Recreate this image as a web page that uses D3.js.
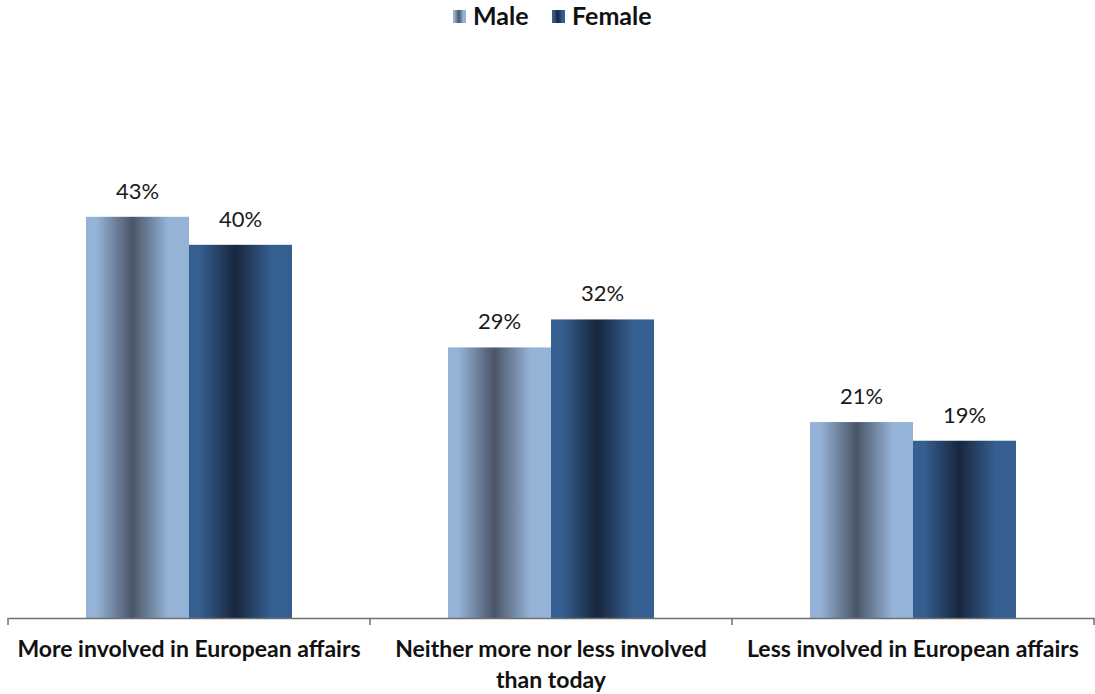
<!DOCTYPE html>
<html><head><meta charset="utf-8">
<script src="https://cdn.jsdelivr.net/npm/d3@7"></script>
<style>body{margin:0;background:#fff}</style>
</head><body>
<svg id="chart" width="1095" height="694"></svg>
<script>
const categories = [["More involved in European affairs"], ["Neither more nor less involved", "than today"], ["Less involved in European affairs"]];
const seriesNames = ["Male", "Female"];
const maleValues = [43, 29, 21];
const femaleValues = [40, 32, 19];

const svg = d3.select("#chart");
const font = "Lato, 'Open Sans', sans-serif";
const baseY = 618;

const x0 = d3.scaleBand().domain(d3.range(categories.length)).range([8, 1094]).paddingInner(0).paddingOuter(0);
const x1 = d3.scaleBand().domain(seriesNames).range([0, x0.bandwidth()]).paddingInner(0).paddingOuter(0.757);
const y = d3.scaleLinear().domain([0, 50]).range([baseY, 151.5]);

const defs = svg.append("defs");
function grad(id, edge, mid) {
  const g = defs.append("linearGradient").attr("id", id).attr("x1", "0%").attr("x2", "100%").attr("y1", "0%").attr("y2", "0%");
  [[0, edge], [0.1, edge], [0.45, mid], [0.8, edge], [1, edge]].forEach(([o, c]) => g.append("stop").attr("offset", o).attr("stop-color", c));
}
grad("gMale", "#95b3d7", "#4a5567");
grad("gFemale", "#365f91", "#17263d");
const fills = {Male: "url(#gMale)", Female: "url(#gFemale)"};

const data = categories.map((c, i) => ({i, vals: [{s: "Male", v: maleValues[i]}, {s: "Female", v: femaleValues[i]}]}));

const groups = svg.selectAll("g.grp").data(data).enter().append("g").attr("class", "grp")
  .attr("transform", d => `translate(${x0(d.i)},0)`);
groups.selectAll("rect").data(d => d.vals).enter().append("rect")
  .attr("x", d => x1(d.s)).attr("width", x1.bandwidth())
  .attr("y", d => y(d.v)).attr("height", d => y(0) - y(d.v))
  .attr("fill", d => fills[d.s]);
groups.selectAll("text.val").data(d => d.vals).enter().append("text").attr("class", "val")
  .attr("x", d => x1(d.s) + x1.bandwidth() / 2).attr("y", d => y(d.v) - 18)
  .attr("text-anchor", "middle").attr("font-family", font).attr("font-size", 22).attr("fill", "#1a1a1a")
  .text(d => d.v + "%");

// axis
const axis = svg.append("g").attr("transform", `translate(0,${baseY})`)
  .call(d3.axisBottom(x0).tickValues([]).tickSizeOuter(0));
axis.select(".domain").attr("stroke", "#6f6f6f").attr("stroke-width", 1.5);
const boundaries = d3.range(categories.length + 1).map(i => i < categories.length ? x0(i) : x0(i - 1) + x0.bandwidth());
svg.selectAll("line.tick").data(boundaries).enter().append("line")
  .attr("x1", d => d).attr("x2", d => d).attr("y1", baseY).attr("y2", baseY + 7)
  .attr("stroke", "#6f6f6f").attr("stroke-width", 1.5);

// category labels
const lbl = svg.selectAll("text.cat").data(categories).enter().append("text").attr("class", "cat")
  .attr("text-anchor", "middle").attr("font-family", font).attr("font-weight", "bold").attr("font-size", 23).attr("fill", "#111");
lbl.each(function(d, i) {
  const t = d3.select(this);
  d.forEach((line, j) => t.append("tspan").attr("x", x0(i) + x0.bandwidth() / 2).attr("y", 657 + j * 31).text(line));
});

// legend
const leg = svg.append("g");
const legPos = [{s: "Male", x: 453}, {s: "Female", x: 552}];
legPos.forEach(p => {
  leg.append("rect").attr("x", p.x).attr("y", 10).attr("width", 13).attr("height", 13).attr("fill", fills[p.s]);
  leg.append("text").attr("x", p.x + 20).attr("y", 25).attr("font-family", font).attr("font-weight", "bold").attr("font-size", 25).attr("fill", "#111").text(p.s);
});
</script>
</body></html>
